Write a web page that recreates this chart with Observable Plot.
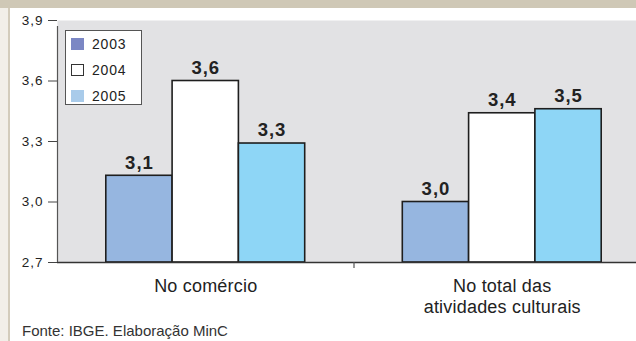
<!DOCTYPE html>
<html><head><meta charset="utf-8">
<script src="https://cdn.jsdelivr.net/npm/d3@7"></script>
<script src="https://cdn.jsdelivr.net/npm/@observablehq/plot@0.6"></script>
<style>
html,body{margin:0;padding:0;overflow:hidden;background:#fff;}
#wrap{position:relative;width:636px;height:341px;overflow:hidden;font-family:"Liberation Sans",Arial,sans-serif;color:#222;}
.topband{position:absolute;left:0;top:0;width:636px;height:8px;background:#cfc8b6;}
.leftpad{position:absolute;left:0;top:8px;width:8px;height:333px;background:#f2efe9;}
.leftline{position:absolute;left:8px;top:8px;width:2px;height:333px;background:#d3ccbc;}
#chart{position:absolute;left:0;top:0;}
#chart svg{overflow:visible;}
.ytick text{letter-spacing:1px;}
.vlabel{letter-spacing:1px;}
.clabel{letter-spacing:0.2px;}
.legend{position:absolute;left:65px;top:30px;width:77px;height:75px;border:1px solid #555;background:#fff;box-sizing:border-box;}
.legend .row{position:absolute;left:5px;height:12px;display:flex;align-items:center;}
.legend .sw{width:13px;height:12px;box-sizing:border-box;margin-right:8px;}
.legend .lt{font-size:14px;letter-spacing:0.8px;line-height:12px;}
.footer{position:absolute;left:22px;top:322px;font-size:15px;color:#333;white-space:nowrap;}
</style>
</head><body>
<div id="wrap">
  <div class="topband"></div>
  <div class="leftpad"></div>
  <div class="leftline"></div>
  <div id="chart"></div>
  <div class="legend" id="legend"></div>
  <div class="footer" id="footer"></div>
</div>
<script>
const categories = ["No comércio", "No total das\natividades culturais"];
const years = ["2003", "2004", "2005"];
const values2003 = [3.13, 3.00];
const values2004 = [3.60, 3.44];
const values2005 = [3.29, 3.46];
const yTicks = [2.7, 3.0, 3.3, 3.6, 3.9];
const barColors = ["#96b6e0", "#ffffff", "#8ed6f6"];
const legendColors = ["#7b87c4", "#ffffff", "#a9cbea"];
const footerText = "Fonte: IBGE. Elaboração MinC";

const seriesValues = [values2003, values2004, values2005];
const rows = [];
categories.forEach((cat, ci) => {
  years.forEach((year, yi) => {
    rows.push({cat, ci, year, yi, value: seriesValues[yi][ci]});
  });
});

const pad = 0.736;              // outer padding of each category group (in bar widths)
const step = 1 / (years.length + 2 * pad);
const fmt = v => v.toFixed(1).replace(".", ",");

const chart = Plot.plot({
  width: 636,
  height: 341,
  marginTop: 20,
  marginBottom: 79,
  marginLeft: 57,
  marginRight: 0,
  style: {fontFamily: "'Liberation Sans', Arial, sans-serif", color: "#222", background: "transparent"},
  x: {type: "linear", domain: [0, categories.length], range: [57, 650], axis: null},
  y: {domain: [2.7, 3.9], axis: null},
  color: {domain: years, range: barColors},
  marks: [
    Plot.frame({fill: "#e2e2e4", stroke: null}),
    Plot.axisY({ticks: yTicks, label: null, tickSize: 9, tickPadding: 5, tickFormat: fmt, fontSize: 13.5, stroke: "#444", className: "ytick", fill: "#222"}),
    Plot.rectY(rows, {
      x1: d => d.ci + (pad + d.yi) * step,
      x2: d => d.ci + (pad + d.yi + 1) * step,
      y1: 2.7, y2: "value", fill: "year", stroke: "#1e1e1e", strokeWidth: 1.6
    }),
    Plot.ruleY([2.7], {stroke: "#333", strokeWidth: 1.4}),
    Plot.ruleX([0], {y1: 2.7, y2: 3.9, insetBottom: -6, stroke: "#555", strokeWidth: 1.2}),
    Plot.ruleX([1], {y1: 2.7, y2: 2.7, insetBottom: -6, stroke: "#555", strokeWidth: 1.2}),
    Plot.text(rows, {
      x: d => d.ci + (pad + d.yi + 0.5) * step,
      y: "value", text: d => fmt(d.value), dy: -13,
      fontSize: 18.5, fontWeight: "bold", fill: "#222", className: "vlabel"
    }),
    Plot.text(categories, {
      x: (d, i) => i + 0.5, frameAnchor: "bottom", text: d => d,
      lineAnchor: "top", dy: 14, lineHeight: 1.2, fontSize: 18, fill: "#222", className: "clabel"
    })
  ]
});
document.getElementById("chart").appendChild(chart);

const legend = document.getElementById("legend");
const rowTops = [7, 33, 59];
years.forEach((y, i) => {
  const r = document.createElement("div");
  r.className = "row";
  r.style.top = rowTops[i] + "px";
  const sw = document.createElement("div");
  sw.className = "sw";
  sw.style.background = legendColors[i];
  if (legendColors[i] === "#ffffff") sw.style.border = "1px solid #333";
  const t = document.createElement("span");
  t.className = "lt";
  t.textContent = y;
  r.appendChild(sw); r.appendChild(t);
  legend.appendChild(r);
});
document.getElementById("footer").textContent = footerText;
</script>
</body></html>
